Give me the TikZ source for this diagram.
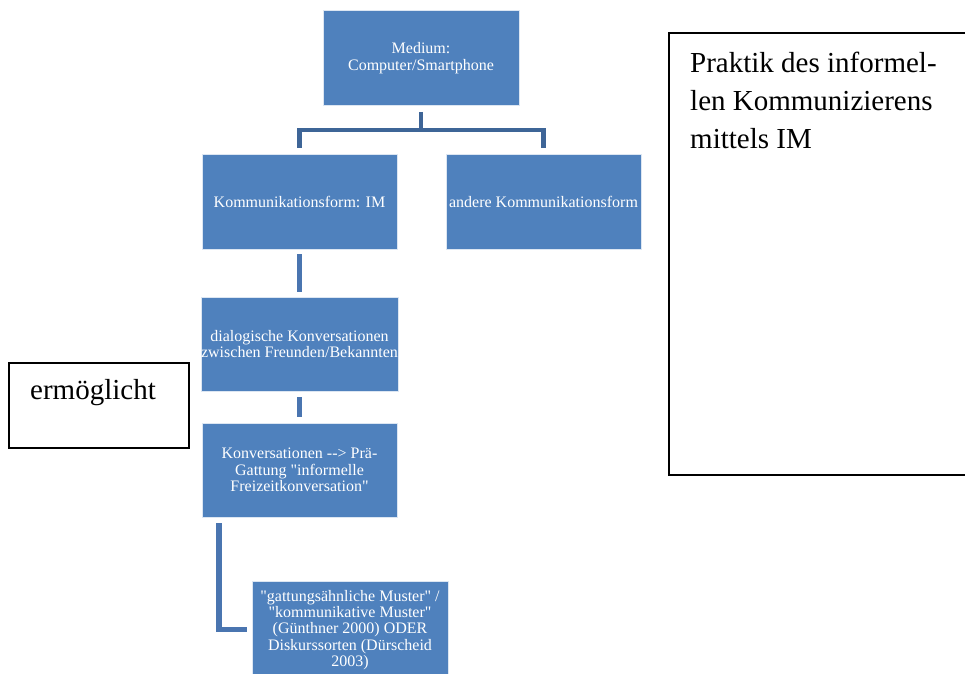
\documentclass[tikz,border=0pt]{standalone}
\usepackage{fontspec}
\setmainfont{Liberation Serif}[Ligatures=TeXOff]
\usetikzlibrary{calc}
\definecolor{boxblue}{RGB}{79,129,189}
\definecolor{treeblue}{RGB}{62,101,151}
\definecolor{linkblue}{RGB}{74,117,176}
\tikzset{
  bluebox/.style={rectangle, fill=boxblue, draw=white!80!boxblue, line width=0.6pt,
    text=white, align=center, inner sep=0pt, minimum width=195pt, minimum height=95pt,
    font=\fontsize{16}{16.5}\selectfont},
  tree/.style={draw=treeblue, line width=4.5pt},
  link/.style={draw=linkblue, line width=5.5pt},
  framebox/.style={rectangle, draw=black, line width=1.6pt, inner sep=0pt},
  bigtext/.style={font=\fontsize{29}{38}\selectfont, inner sep=0pt, align=left}
}
\begin{document}
\begin{tikzpicture}[x=1pt,y=-1pt]
\useasboundingbox (0,0) rectangle (965,673);
% framed text boxes
\node[framebox, minimum width=180pt, minimum height=85pt] (ermbox) at (99,405.5) {};
\node[bigtext, anchor=base west] (ermtext) at (30,399) {ermöglicht};
\node[framebox, minimum width=340pt, minimum height=442pt] (praxbox) at (839,254) {};
\node[bigtext, anchor=base west] (praxtext) at (690,148) {Praktik des informel-\\len Kommunizierens\\mittels IM};
% blue boxes
\node[bluebox, minimum width=196pt] (med) at (421,58) {Medium:\\Computer/Smartphone};
\node[bluebox] (im) at (299.5,201.5) {Kommunikationsform: IM};
\node[bluebox] (andere) at (543.5,201.5) {andere Kommunikationsform};
\node[bluebox, minimum height=94pt] (dialog) at (299.5,344) {dialogische Konversationen\\zwischen Freunden/Bekannten};
\node[bluebox, minimum height=94pt] (konv) at (299.5,470) {Konversationen --> Prä-\\Gattung "informelle\\Freizeitkonversation"};
\node[bluebox, minimum width=196pt, minimum height=98pt, font=\fontsize{16}{16.2}\selectfont] (gatt) at (350,630) {"gattungsähnliche Muster" /\\"kommunikative Muster"\\(Günthner 2000) ODER\\Diskurssorten (Dürscheid\\2003)};
% connectors
\coordinate (j) at (421,130);
\draw[tree] ($(med.south)+(0,6)$) -- (j);
\draw[tree] ($(im.north)+(0,-6)$) |- (j) -| ($(andere.north)+(0,-6)$);
\draw[link] ($(im.south)+(0,5)$) -- ($(dialog.north)+(0,-5)$);
\draw[link] ($(dialog.south)+(0,6)$) -- ($(konv.north)+(0,-6)$);
\coordinate (k) at ($(konv.south west)+(17.5,6)$);
\draw[link] (k) |- ($(gatt.west)+(-5,-0.5)$);
\end{tikzpicture}
\end{document}
